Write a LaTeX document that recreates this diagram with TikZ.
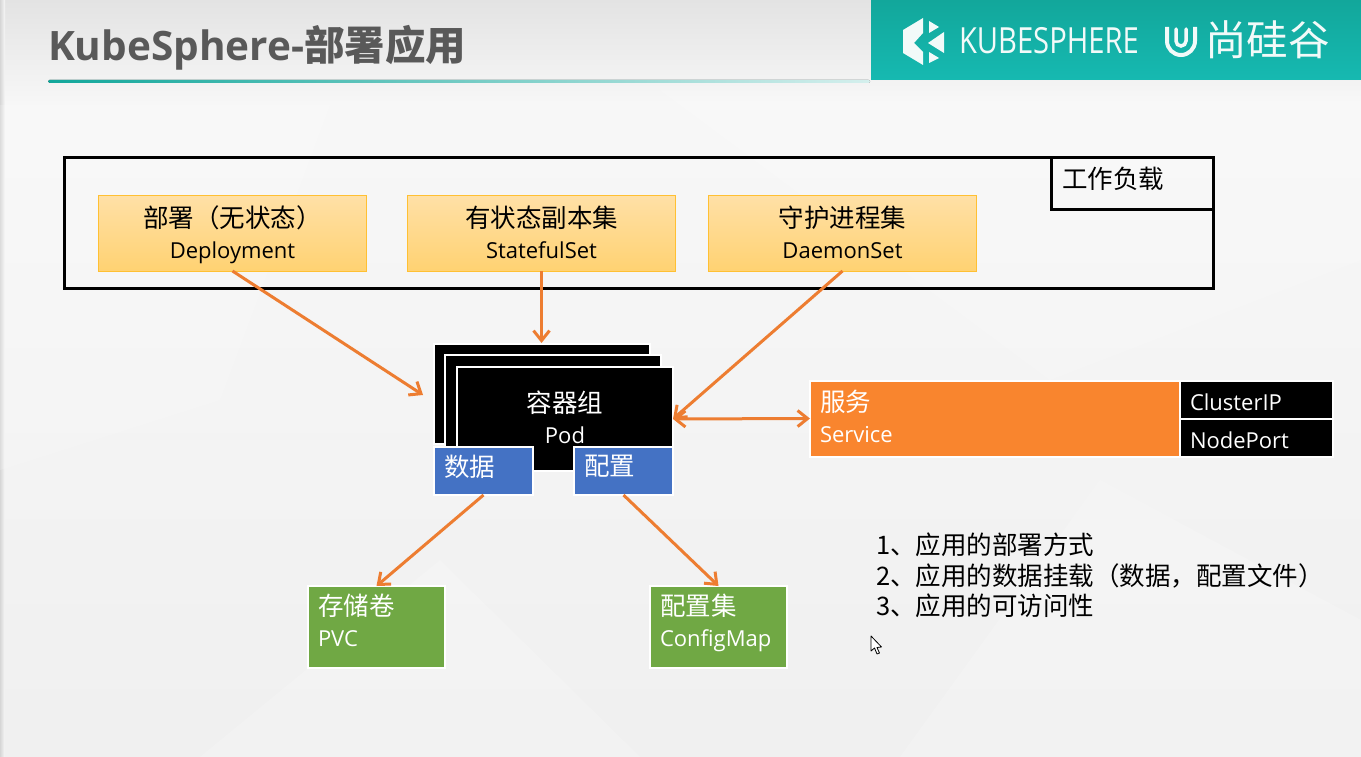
\documentclass[tikz,border=0pt]{standalone}
\usepackage{fontspec}
\usepackage{graphicx}
\setmainfont{Open Sans}
\newfontfamily\zhf{Noto Sans CJK SC}
\newcommand{\zh}[1]{{\zhf\fontsize{25.5}{31}\selectfont #1}}
\newcommand{\sz}[2]{\fontsize{#1}{#2}\selectfont}
\definecolor{teal1}{HTML}{12A79B}
\definecolor{teal2}{HTML}{16B9B1}
\definecolor{arrowor}{HTML}{ED7D31}
\definecolor{svcor}{HTML}{F9852E}
\definecolor{blueb}{HTML}{4472C4}
\definecolor{greenb}{HTML}{70A844}
\definecolor{titleg}{HTML}{595959}
\definecolor{yellowtop}{HTML}{FFE0A6}
\definecolor{yellowbot}{HTML}{FFD272}
\definecolor{yellowedge}{HTML}{FFC033}
\definecolor{logowhite}{HTML}{F2FAF9}
\usetikzlibrary{arrows.meta}
\tikzset{
  every node/.style={outer sep=0pt,inner ysep=0pt,inner xsep=10pt,font=\sz{22}{31}},
  yellowbox/.style={draw=yellowedge,line width=1pt,top color=yellowtop,bottom color=yellowbot,text=black,align=center,minimum width=268.5,minimum height=75,text depth=3pt},
  podbox/.style={fill=black,draw=white,line width=2pt},
  bluebox/.style={fill=blueb,draw=white,line width=2pt,text=white,minimum width=99,minimum height=48,text width=79,align=left,text depth=11pt},
  greenbox/.style={fill=greenb,draw=white,line width=1.5pt,text=white,minimum width=137,minimum height=82,text width=117,align=left,text depth=45pt},
  blackcell/.style={fill=black,draw=white,line width=2pt,text=white,minimum width=153,minimum height=38,text width=133,align=left,text height=22pt,text depth=0pt},
  barb/.tip={Straight Barb[length=10pt,width=16pt,line width=3pt]},
  flow/.style={draw=arrowor,line width=3pt,-barb},
  flowboth/.style={draw=arrowor,line width=3pt,barb-barb},
  blockedge/.style={draw=black,line width=3pt},
  facet/.style={fill=white,opacity=.16,draw=none},
  logo/.style={fill=logowhite,draw=none}
}
\begin{document}
\begin{tikzpicture}[x=1pt,y=-1pt]
\useasboundingbox (0,0) rectangle (1361,757);
% page background
\fill[top color=black!11,bottom color=black!3] (0,0) rectangle (1361,105);
\fill[top color=black!3,bottom color=black!6] (0,105) rectangle (1361,757);
\fill[left color=black!16,right color=black!3] (0,0) rectangle (5,757);
\fill[facet] (0,105) -- (330,105) -- (220,400) -- (0,470) -- cycle;
\fill[facet] (660,90) -- (1361,90) -- (1361,260) -- (1050,380) -- cycle;
\fill[facet] (200,757) -- (440,560) -- (640,757) -- cycle;
\fill[facet] (900,757) -- (1100,480) -- (1361,620) -- (1361,757) -- cycle;
% header
\fill[top color=teal1,bottom color=teal2] (871,0) rectangle (1361,80);
\node[anchor=west,inner xsep=0pt,text=titleg,font={\sz{40.5}{42}\bfseries}] (title) at (48,48) {KubeSphere-{\zhf\bfseries 部署应用}};
\fill[left color=teal1,right color=teal1!18,rounded corners=1.5pt] (48,80) rectangle (870,83);
% KubeSphere logo
\fill[logo] (923,18) -- (903,30) -- (903,53) -- (923,65) -- (923,52) -- (914,43) -- (923,33) -- cycle;
\fill[logo] (929,21) -- (939,27) -- (929,33) -- cycle;
\fill[logo] (944,32) -- (944,53) -- (928,43) -- cycle;
\fill[logo] (929,52) -- (939,58) -- (929,63) -- cycle;
\node[anchor=west,inner xsep=0pt,text=logowhite] (kslogo) at (959,41) {\sz{36}{36}\scalebox{.81}[1]{KUBESPHERE}};
% Shangguigu logo
\draw[logowhite,line width=4pt] (1167,27) -- (1167,41) arc[start angle=180,end angle=0,radius=14] -- (1195,27);
\draw[logowhite,line width=3.5pt,line cap=round] (1176,29) -- (1176,41) arc[start angle=180,end angle=0,radius=5] -- (1186,29);
\node[anchor=west,inner xsep=0pt,text=logowhite] (sgg) at (1205,40) {{\zhf\sz{41.5}{42}尚硅谷}};
% workload frame
\node[blockedge,minimum width=1149,minimum height=130,anchor=north west] (workload) at (64,158) {};
\node[blockedge,minimum width=162,minimum height=52,anchor=north west,text width=140,align=left,inner xsep=11pt] (wltag) at (1051,158) {\raisebox{12pt}{\zh{工作负载}}};
\node[yellowbox] (deploy) at (232.5,233.5) {\zh{部署（无状态）}\\Deployment};
\node[yellowbox] (stateful) at (541.5,233.5) {\zh{有状态副本集}\\StatefulSet};
\node[yellowbox] (daemon) at (842.5,233.5) {\zh{守护进程集}\\DaemonSet};
% pods
\node[podbox,minimum width=216,minimum height=100,anchor=north west] (pod1) at (434,344) {};
\node[podbox,minimum width=216,minimum height=100,anchor=north west] (pod2) at (445,355) {};
\node[podbox,minimum width=216,minimum height=104,anchor=north west,text=white,align=center,text depth=4pt] (pod3) at (457,367) {\zh{容器组}\\Pod};
\node[bluebox,anchor=north west] (data) at (434,447) {\zh{数据}};
\node[bluebox,anchor=north west] (config) at (574,447) {\zh{配置}};
% service
\node[fill=svcor,draw=white,line width=2pt,text=white,minimum width=370,minimum height=76,text width=350,align=left,anchor=north west,text depth=36pt] (service) at (810,380.5) {\zh{服务}\\Service};
\node[blackcell,anchor=north west] (cip) at (1180,380.5) {ClusterIP};
\node[blackcell,anchor=north west] (nport) at (1180,418.5) {NodePort};
% storage
\node[greenbox,anchor=north west] (pvc) at (308,586) {\zh{存储卷}\\PVC};
\node[greenbox,anchor=north west] (cmap) at (650,586) {\zh{配置集}\\ConfigMap};
% connectors
\coordinate (podleft) at (423,395);
\coordinate (podtop) at (541.5,343);
\draw[flow] (deploy.south) -- (podleft);
\draw[flow] (stateful.south) -- (podtop);
\draw[flow] (daemon.south) -- (pod3.east);
\draw[flowboth] (pod3.east) -- (service.west);
\draw[flow] (data.south) -- (pvc.north);
\draw[flow] (config.south) -- (cmap.north);
% list
\node[anchor=north west,inner xsep=0pt,align=left,text=black,font={\zhf\sz{25.5}{30.5}}] (points) at (876,533) {1、应用的部署方式\\2、应用的数据挂载（数据，配置文件）\\3、应用的可访问性};
% mouse pointer
\draw[black,fill=white,line width=.8pt,line join=round] (871,636) -- (871,651) -- (874.5,648) -- (877,654) -- (879.5,653) -- (877,647.5) -- (881.5,647) -- cycle;
\end{tikzpicture}
\end{document}
